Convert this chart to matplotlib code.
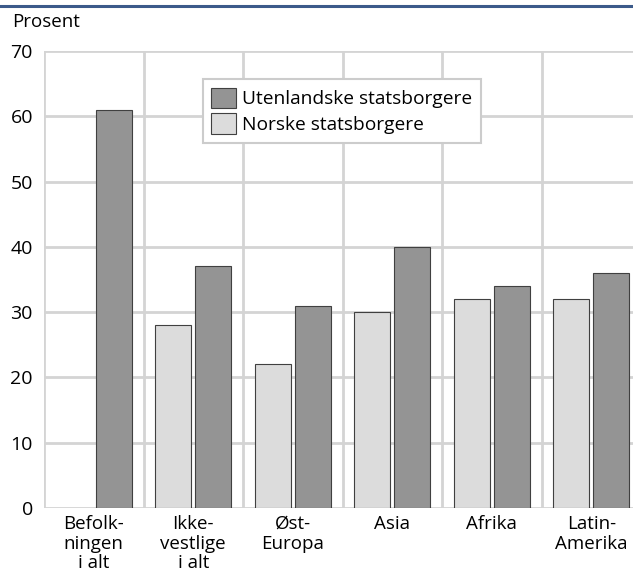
import matplotlib
matplotlib.use('Agg')
import matplotlib.pyplot as plt
from matplotlib.lines import Line2D
import numpy as np

plt.rcParams['font.family'] = ['Open Sans', 'DejaVu Sans']

categories = ['Befolk-\nningen\ni alt', 'Ikke-\nvestlige\ni alt', 'Øst-\nEuropa',
              'Asia', 'Afrika', 'Latin-\nAmerika']
norske = [np.nan, 28, 22, 30, 32, 32]
utenlandske = [61, 37, 31, 40, 34, 36]
yticks = [0, 10, 20, 30, 40, 50, 60, 70]

W, H = 633, 576
fig = plt.figure(figsize=(W / 100, H / 100), dpi=100)
# plot area runs past the right edge, like the reference
ax = fig.add_axes([44 / W, 68 / H, 597 / W, 457 / H])

x = np.arange(len(categories))
grid_c = '#d4d4d4'
ax.bar(x - 0.2, norske, width=0.362, color='#dcdcdc', edgecolor='#404040',
       linewidth=0.8, label='Norske statsborgere', zorder=3)
ax.bar(x + 0.2, utenlandske, width=0.362, color='#949494', edgecolor='#404040',
       linewidth=0.8, label='Utenlandske statsborgere', zorder=3)

ax.set_xlim(-0.5, len(categories) - 0.5)
ax.set_ylim(0, 70)
ax.set_yticks(yticks)
ax.set_xticks(x)
ax.set_xticklabels(categories, fontsize=13.5, linespacing=1.12)
ax.tick_params(axis='y', length=0, pad=8, labelsize=14)
ax.tick_params(axis='x', length=0, pad=5)

for v in np.arange(-0.5, len(categories), 1.0):
    ax.axvline(v, color=grid_c, lw=2, zorder=1)
for v in yticks:
    ax.axhline(v, color=grid_c, lw=2, zorder=1)
for s in ax.spines.values():
    s.set_visible(False)

h, l = ax.get_legend_handles_labels()
leg = ax.legend(h[::-1], l[::-1], loc='upper left', bbox_to_anchor=(0.266, 0.939),
                borderaxespad=0, fontsize=13.8, frameon=True, fancybox=False,
                edgecolor='#cccccc', framealpha=1, handlelength=1.3, handleheight=1.3,
                handletextpad=0.3, labelspacing=0.25, borderpad=0.45)
leg.get_frame().set_linewidth(1.5)
leg.set_zorder(5)

fig.text(12 / W, 1 - 22 / H, 'Prosent', fontsize=13.5, va='center', ha='left')
fig.add_artist(Line2D([0, 1], [1 - 5.5 / H] * 2, color='#3c5a8a', lw=2.2,
                      transform=fig.transFigure))

fig.savefig('out.png', dpi=100)
